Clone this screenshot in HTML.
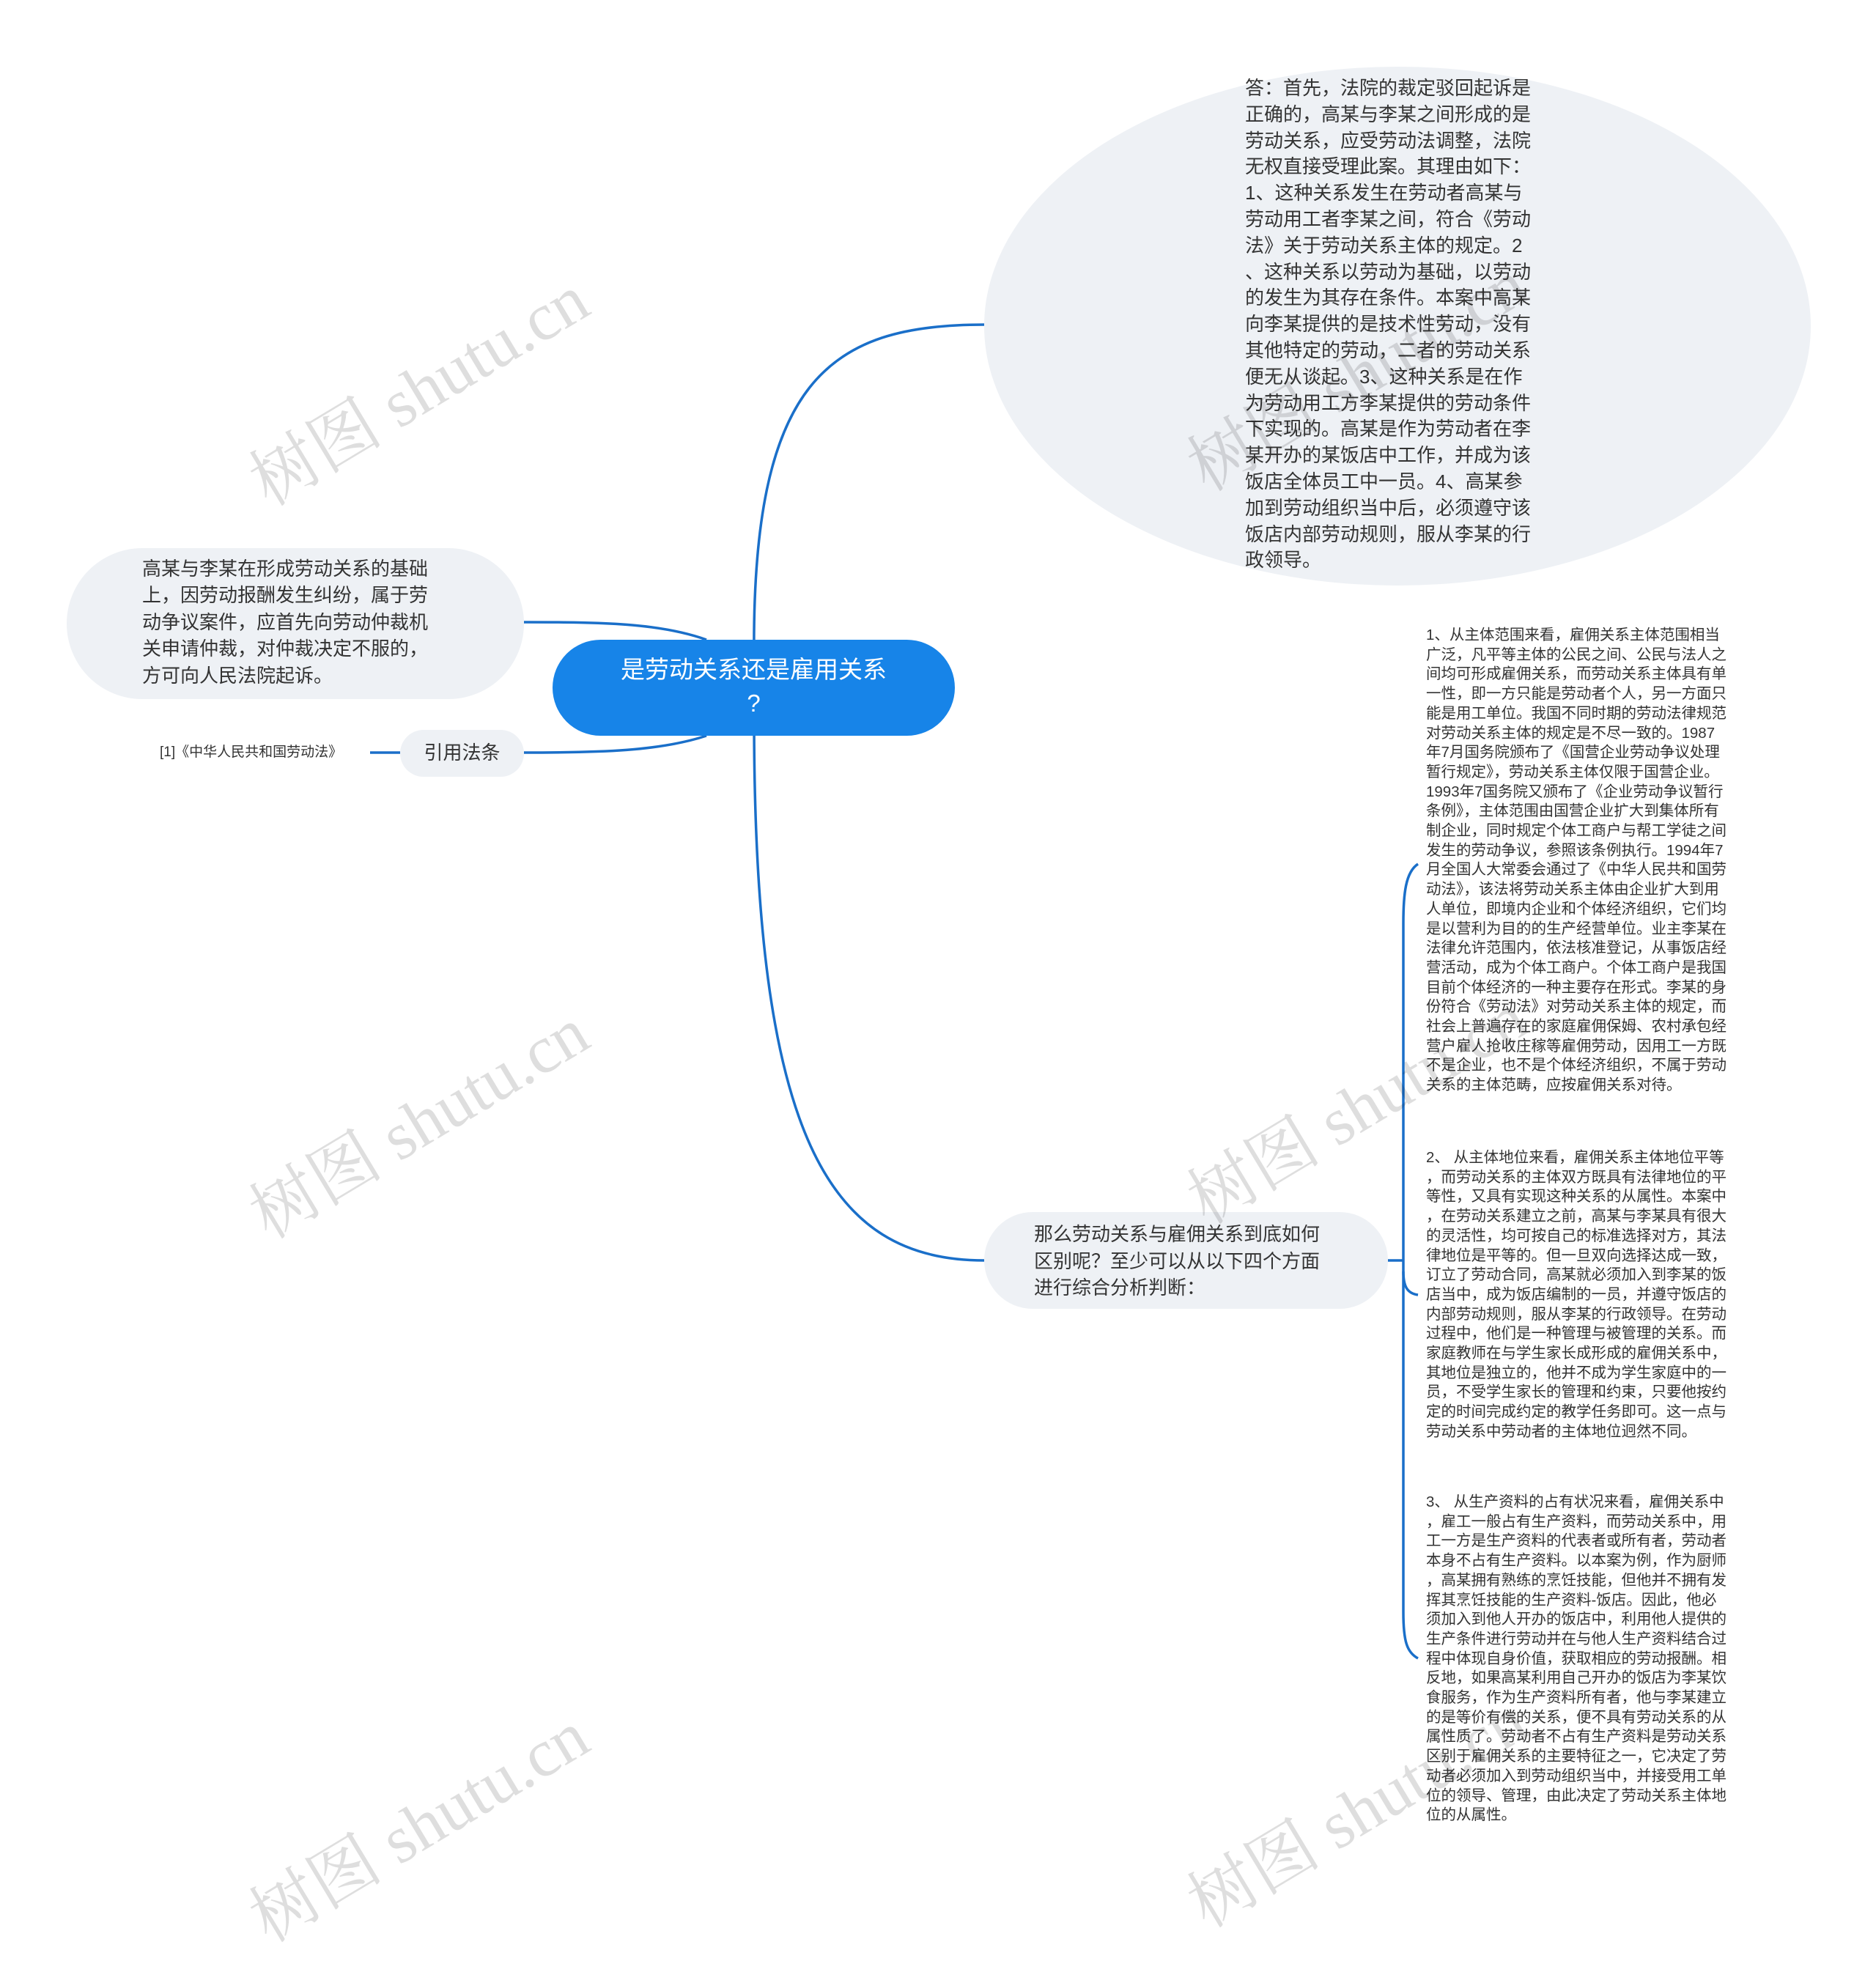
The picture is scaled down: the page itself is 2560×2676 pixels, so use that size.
<!DOCTYPE html>
<html><head><meta charset="utf-8">
<style>
body{margin:0;width:2560px;height:2593px;background:#fff;position:relative;overflow:hidden;font-family:"Liberation Sans","Noto Sans CJK SC",sans-serif;}
.a{position:absolute;}
.n{position:absolute;background:#eef1f5;}
.t{position:absolute;color:#333;white-space:nowrap;}
.t div{white-space:nowrap;}
.wm{position:absolute;font-size:92px;color:rgba(0,0,0,0.13);white-space:nowrap;transform:rotate(-31deg);transform-origin:center;font-family:"Liberation Serif","Noto Serif CJK SC",serif;}
</style></head><body>

<svg class="a" style="left:0;top:0" width="2560" height="2593">
<g fill="none" stroke="#1a6fc9" stroke-width="3.5">
<path d="M1029,900 C1025,520 1130,443 1343,443"/>
<path d="M1029,980 C1029,1550 1130,1720 1343,1720"/>
<path d="M964,873 C900,850 820,849 715,849"/>
<path d="M964,1004 C900,1025 820,1027 715,1027"/>
<path d="M505,1027 L546,1027"/>
<path d="M1894,1720 L1915,1720"/>
<path d="M1935,1179 C1918,1190 1915,1220 1915,1260 L1915,2200 C1915,2240 1920,2255 1935,2263"/>
<path d="M1915,1735 C1915,1755 1920,1765 1935,1767"/>
</g>
</svg>

<!-- top ellipse -->
<div class="n" style="left:1343px;top:91px;width:1128px;height:708px;border-radius:50%;"></div>
<div class="t" style="left:1699px;top:103px;font-size:26px;line-height:35.8px;">
<div>答：首先，法院的裁定驳回起诉是</div><div>正确的，高某与李某之间形成的是</div><div>劳动关系，应受劳动法调整，法院</div><div>无权直接受理此案。其理由如下：</div><div>1、这种关系发生在劳动者高某与</div><div>劳动用工者李某之间，符合《劳动</div><div>法》关于劳动关系主体的规定。2</div><div>、这种关系以劳动为基础，以劳动</div><div>的发生为其存在条件。本案中高某</div><div>向李某提供的是技术性劳动，没有</div><div>其他特定的劳动，二者的劳动关系</div><div>便无从谈起。3、这种关系是在作</div><div>为劳动用工方李某提供的劳动条件</div><div>下实现的。高某是作为劳动者在李</div><div>某开办的某饭店中工作，并成为该</div><div>饭店全体员工中一员。4、高某参</div><div>加到劳动组织当中后，必须遵守该</div><div>饭店内部劳动规则，服从李某的行</div><div>政领导。</div>
</div>

<!-- center -->
<div class="a" style="left:754px;top:873px;width:549px;height:131px;background:#1784e8;border-radius:66px;"></div>
<div class="t" style="left:754px;top:891px;width:549px;text-align:center;color:#fff;font-size:33px;line-height:46px;">
<div>是劳动关系还是雇用关系</div><div>?</div></div>

<!-- left node -->
<div class="n" style="left:91px;top:748px;width:624px;height:206px;border-radius:103px;"></div>
<div class="t" style="left:194px;top:758px;font-size:26px;line-height:36.4px;">
<div>高某与李某在形成劳动关系的基础</div><div>上，因劳动报酬发生纠纷，属于劳</div><div>动争议案件，应首先向劳动仲裁机</div><div>关申请仲裁，对仲裁决定不服的，</div><div>方可向人民法院起诉。</div></div>

<div class="n" style="left:546px;top:996px;width:169px;height:64px;border-radius:32px;"></div>
<div class="t" style="left:546px;top:1008px;width:169px;text-align:center;font-size:26px;line-height:38px;">引用法条</div>
<div class="t" style="left:218px;top:1014px;font-size:19px;line-height:26px;">[1]《中华人民共和国劳动法》</div>

<!-- bottom node -->
<div class="n" style="left:1343px;top:1654px;width:551px;height:132px;border-radius:66px;"></div>
<div class="t" style="left:1411px;top:1666px;font-size:26px;line-height:36.5px;">
<div>那么劳动关系与雇佣关系到底如何</div><div>区别呢？至少可以从以下四个方面</div><div>进行综合分析判断：</div></div>

<!-- block1 -->
<div class="t" style="left:1946px;top:854px;font-size:20.5px;line-height:26.7px;">
<div>1、从主体范围来看，雇佣关系主体范围相当</div><div>广泛，凡平等主体的公民之间、公民与法人之</div><div>间均可形成雇佣关系，而劳动关系主体具有单</div><div>一性，即一方只能是劳动者个人，另一方面只</div><div>能是用工单位。我国不同时期的劳动法律规范</div><div>对劳动关系主体的规定是不尽一致的。1987</div><div>年7月国务院颁布了《国营企业劳动争议处理</div><div>暂行规定》，劳动关系主体仅限于国营企业。</div><div>1993年7国务院又颁布了《企业劳动争议暂行</div><div>条例》，主体范围由国营企业扩大到集体所有</div><div>制企业，同时规定个体工商户与帮工学徒之间</div><div>发生的劳动争议，参照该条例执行。1994年7</div><div>月全国人大常委会通过了《中华人民共和国劳</div><div>动法》，该法将劳动关系主体由企业扩大到用</div><div>人单位，即境内企业和个体经济组织，它们均</div><div>是以营利为目的的生产经营单位。业主李某在</div><div>法律允许范围内，依法核准登记，从事饭店经</div><div>营活动，成为个体工商户。个体工商户是我国</div><div>目前个体经济的一种主要存在形式。李某的身</div><div>份符合《劳动法》对劳动关系主体的规定，而</div><div>社会上普遍存在的家庭雇佣保姆、农村承包经</div><div>营户雇人抢收庄稼等雇佣劳动，因用工一方既</div><div>不是企业，也不是个体经济组织，不属于劳动</div><div>关系的主体范畴，应按雇佣关系对待。</div></div>

<!-- block2 -->
<div class="t" style="left:1946px;top:1567px;font-size:20.5px;line-height:26.7px;">
<div>2、 从主体地位来看，雇佣关系主体地位平等</div><div>，而劳动关系的主体双方既具有法律地位的平</div><div>等性，又具有实现这种关系的从属性。本案中</div><div>，在劳动关系建立之前，高某与李某具有很大</div><div>的灵活性，均可按自己的标准选择对方，其法</div><div>律地位是平等的。但一旦双向选择达成一致，</div><div>订立了劳动合同，高某就必须加入到李某的饭</div><div>店当中，成为饭店编制的一员，并遵守饭店的</div><div>内部劳动规则，服从李某的行政领导。在劳动</div><div>过程中，他们是一种管理与被管理的关系。而</div><div>家庭教师在与学生家长成形成的雇佣关系中，</div><div>其地位是独立的，他并不成为学生家庭中的一</div><div>员，不受学生家长的管理和约束，只要他按约</div><div>定的时间完成约定的教学任务即可。这一点与</div><div>劳动关系中劳动者的主体地位迥然不同。</div></div>

<!-- block3 -->
<div class="t" style="left:1946px;top:2037px;font-size:20.5px;line-height:26.7px;">
<div>3、 从生产资料的占有状况来看，雇佣关系中</div><div>，雇工一般占有生产资料，而劳动关系中，用</div><div>工一方是生产资料的代表者或所有者，劳动者</div><div>本身不占有生产资料。以本案为例，作为厨师</div><div>，高某拥有熟练的烹饪技能，但他并不拥有发</div><div>挥其烹饪技能的生产资料-饭店。因此，他必</div><div>须加入到他人开办的饭店中，利用他人提供的</div><div>生产条件进行劳动并在与他人生产资料结合过</div><div>程中体现自身价值，获取相应的劳动报酬。相</div><div>反地，如果高某利用自己开办的饭店为李某饮</div><div>食服务，作为生产资料所有者，他与李某建立</div><div>的是等价有偿的关系，便不具有劳动关系的从</div><div>属性质了。劳动者不占有生产资料是劳动关系</div><div>区别于雇佣关系的主要特征之一，它决定了劳</div><div>动者必须加入到劳动组织当中，并接受用工单</div><div>位的领导、管理，由此决定了劳动关系主体地</div><div>位的从属性。</div></div>

<!-- watermarks -->
<div class="wm" style="left:310px;top:460px;">树图 shutu.cn</div>
<div class="wm" style="left:310px;top:1460px;">树图 shutu.cn</div>
<div class="wm" style="left:310px;top:2420px;">树图 shutu.cn</div>
<div class="wm" style="left:1590px;top:440px;">树图 shutu.cn</div>
<div class="wm" style="left:1590px;top:1440px;">树图 shutu.cn</div>
<div class="wm" style="left:1590px;top:2400px;">树图 shutu.cn</div>
</body></html>
